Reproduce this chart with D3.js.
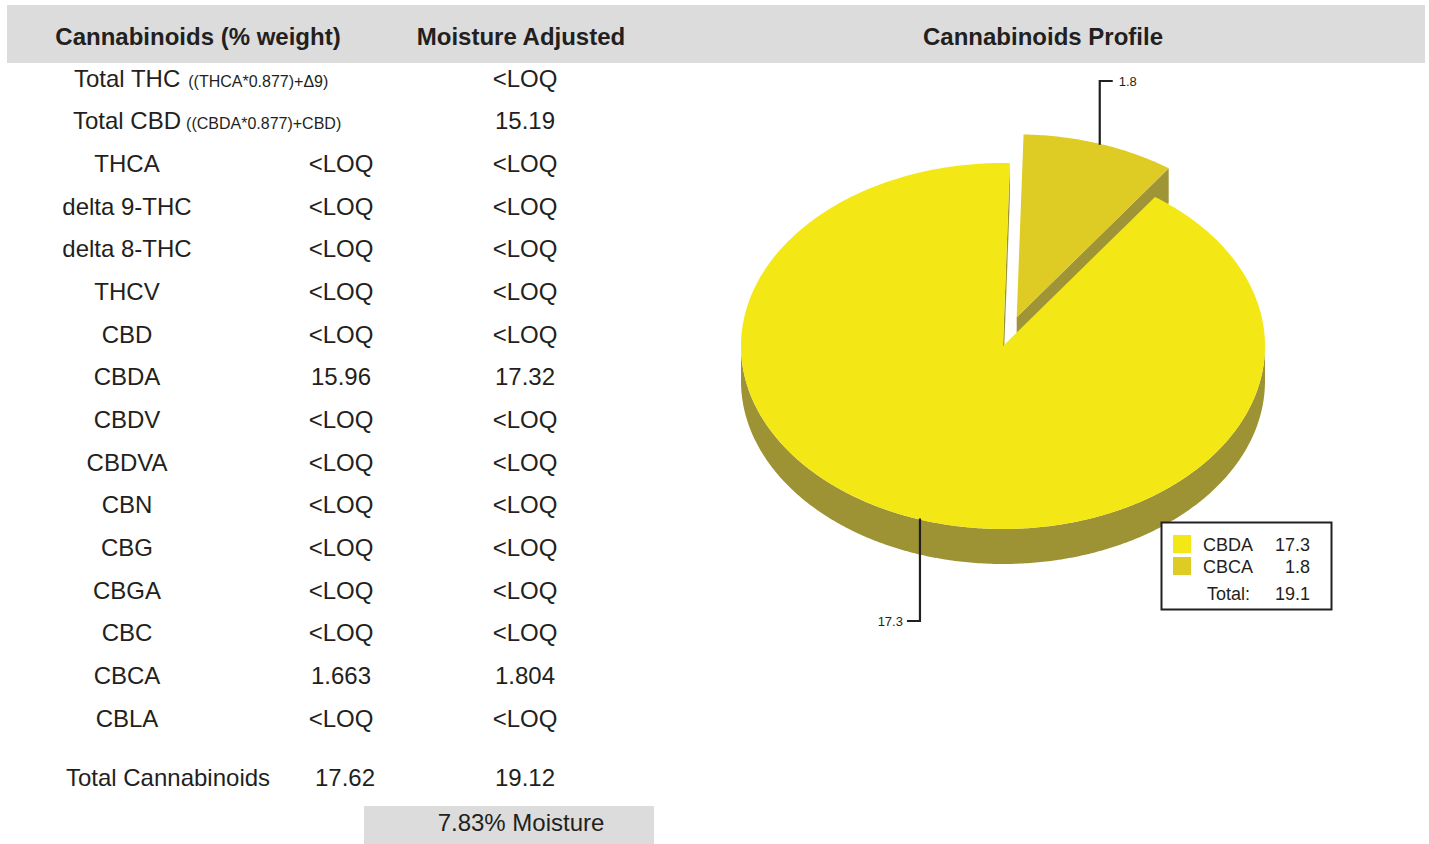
<!DOCTYPE html>
<html>
<head>
<meta charset="utf-8">
<script src="https://cdn.jsdelivr.net/npm/d3@7"></script>
<style>
  html, body { margin: 0; padding: 0; background: #fff; }
  svg { display: block; }
  text { font-family: "Liberation Sans", Arial, Helvetica, sans-serif; fill: #231f20; }
</style>
</head>
<body>
<svg id="chart" width="1429" height="844"></svg>
<script>
// ---------------- DATA ----------------
const headerTitles = ["Cannabinoids (% weight)", "Moisture Adjusted", "Cannabinoids Profile"];
const totalLabels = ["Total THC", "Total CBD"];
const totalFormulas = ["((THCA*0.877)+\u03949)", "((CBDA*0.877)+CBD)"];
const totalAdjusted = ["<LOQ", "15.19"];
const analytes = ["THCA", "delta 9-THC", "delta 8-THC", "THCV", "CBD", "CBDA", "CBDV", "CBDVA", "CBN", "CBG", "CBGA", "CBC", "CBCA", "CBLA"];
const weightValues = ["<LOQ", "<LOQ", "<LOQ", "<LOQ", "<LOQ", "15.96", "<LOQ", "<LOQ", "<LOQ", "<LOQ", "<LOQ", "<LOQ", "1.663", "<LOQ"];
const adjustedValues = ["<LOQ", "<LOQ", "<LOQ", "<LOQ", "<LOQ", "17.32", "<LOQ", "<LOQ", "<LOQ", "<LOQ", "<LOQ", "<LOQ", "1.804", "<LOQ"];
const grandTotalLabel = "Total Cannabinoids";
const grandTotalWeight = "17.62";
const grandTotalAdjusted = "19.12";
const moistureText = "7.83% Moisture";

const pieLabels = ["CBDA", "CBCA"];
const pieValues = [17.32, 1.804];
const pieTopColors = ["#f3e815", "#decb23"];
const pieSideColors = ["#9e9334", "#a09536"];
const pieExplode = [0, 0.165];

// ---------------- LAYOUT ----------------
const svg = d3.select("#chart");

// header band
svg.append("rect").attr("x", 7).attr("y", 5).attr("width", 1418).attr("height", 58).attr("fill", "#dcdcdc");
const headerX = [198, 521, 1043];
svg.selectAll("text.hdr").data(headerTitles).join("text")
  .attr("class", "hdr")
  .attr("x", (d, i) => headerX[i]).attr("y", 45)
  .attr("text-anchor", "middle")
  .style("font-weight", "bold").style("font-size", "24px")
  .text(d => d);

// row scale
const rowY = d3.scaleLinear().domain([0, 15]).range([78, 718]);
const colX = { name: 127, weight: 341, adjusted: 525 };
const FS = "24px";
const BO = 8.5;

// total rows
const totalRows = svg.selectAll("g.total").data(totalLabels).join("g").attr("class", "total");
totalRows.append("text")
  .attr("x", (d, i) => i === 0 ? 74 : 73)
  .attr("y", (d, i) => rowY(i) + BO)
  .style("font-size", FS)
  .text(d => d)
  .append("tspan")
  .attr("dx", (d, i) => i === 0 ? 8 : 5)
  .style("font-size", "16px")
  .text((d, i) => totalFormulas[i]);
totalRows.append("text")
  .attr("x", colX.adjusted).attr("y", (d, i) => rowY(i) + BO)
  .attr("text-anchor", "middle").style("font-size", FS)
  .text((d, i) => totalAdjusted[i]);

// analyte rows
const rows = svg.selectAll("g.row").data(analytes).join("g").attr("class", "row");
rows.append("text").attr("x", colX.name).attr("y", (d, i) => rowY(i + 2) + BO)
  .attr("text-anchor", "middle").style("font-size", FS).text(d => d);
rows.append("text").attr("x", colX.weight).attr("y", (d, i) => rowY(i + 2) + BO)
  .attr("text-anchor", "middle").style("font-size", FS).text((d, i) => weightValues[i]);
rows.append("text").attr("x", colX.adjusted).attr("y", (d, i) => rowY(i + 2) + BO)
  .attr("text-anchor", "middle").style("font-size", FS).text((d, i) => adjustedValues[i]);

// grand total
const gtY = 777 + BO;
svg.append("text").attr("x", 168).attr("y", gtY).attr("text-anchor", "middle").style("font-size", FS).text(grandTotalLabel);
svg.append("text").attr("x", 345).attr("y", gtY).attr("text-anchor", "middle").style("font-size", FS).text(grandTotalWeight);
svg.append("text").attr("x", colX.adjusted).attr("y", gtY).attr("text-anchor", "middle").style("font-size", FS).text(grandTotalAdjusted);

// moisture box
svg.append("rect").attr("x", 364).attr("y", 806).attr("width", 290).attr("height", 38).attr("fill", "#dcdcdc");
svg.append("text").attr("x", 521).attr("y", 831).attr("text-anchor", "middle").style("font-size", FS).text(moistureText);

// ---------------- 3D PIE ----------------
const cx = 1003, cy = 346, rx = 262, ry = 183, depth = 35;
const rot = 1.5 * Math.PI / 180;
const total = d3.sum(pieValues);
const firstShare = pieValues[0] / total * 2 * Math.PI;
const startA = rot + (2 * Math.PI - firstShare);
const pie = d3.pie().sort(null).value(d => d.value)
  .startAngle(startA).endAngle(startA + 2 * Math.PI);
const slices = pie(pieValues.map((v, i) => ({ label: pieLabels[i], value: v, i })));

function pt(a, r, z, off) {
  return [cx + off[0] + r * rx * Math.sin(a), cy + off[1] - r * ry * Math.cos(a) + z];
}
function arcPts(a0, a1, z, off) {
  const n = Math.max(4, Math.ceil(Math.abs(a1 - a0) / 0.01));
  const out = [];
  for (let k = 0; k <= n; k++) out.push(pt(a0 + (a1 - a0) * k / n, 1, z, off));
  return out;
}
const line = d3.line();

slices.forEach(s => {
  const mid = (s.startAngle + s.endAngle) / 2;
  const e = pieExplode[s.data.i];
  s.mid = mid;
  s.off = [e * rx * Math.sin(mid), -e * ry * Math.cos(mid)];
  s.depthKey = s.off[1] - ry * Math.cos(mid);
});
const ordered = slices.slice().sort((a, b) => a.depthKey - b.depthKey);

const pieG = svg.append("g");
ordered.forEach(s => {
  const g = pieG.append("g");
  const i = s.data.i;
  const a0 = s.startAngle, a1 = s.endAngle, off = s.off;
  const walls = [];
  if (Math.sin(a0) < 0) walls.push(a0);
  if (Math.sin(a1) > 0) walls.push(a1);
  walls.forEach(a => {
    const p = [pt(a, 0, 0, off), pt(a, 1, 0, off), pt(a, 1, depth, off), pt(a, 0, depth, off)];
    g.append("path").attr("d", line(p) + "Z").attr("fill", pieSideColors[i]);
  });
  for (let k = -1; k <= 2; k++) {
    const v0 = Math.PI / 2 + 2 * Math.PI * k, v1 = 3 * Math.PI / 2 + 2 * Math.PI * k;
    const s0 = Math.max(a0, v0), s1 = Math.min(a1, v1);
    if (s1 > s0) {
      const top = arcPts(s0, s1, 0, off);
      const bot = arcPts(s1, s0, depth, off);
      g.append("path").attr("d", line(top.concat(bot)) + "Z").attr("fill", pieSideColors[i]);
    }
  }
  const face = [pt(0, 0, 0, off)].concat(arcPts(a0, a1, 0, off));
  g.append("path").attr("d", line(face) + "Z").attr("fill", pieTopColors[i]);
});

// leaders
const fmt = d3.format(".1f");
const leaderG = svg.append("g");
slices.forEach(s => {
  const p = pt(s.mid, 1, 0, s.off);
  const upper = Math.cos(s.mid) > 0;
  const right = Math.sin(s.mid) > 0;
  const yEnd = upper ? cy - ry - 82 : cy + ry + depth + 57;
  const xEnd = p[0] + (right ? 13 : -13);
  leaderG.append("path")
    .attr("d", line([[p[0], p[1] + (upper ? 1 : -1)], [p[0], yEnd], [xEnd, yEnd]]))
    .attr("fill", "none").attr("stroke", "#231f20").attr("stroke-width", 2.2);
  leaderG.append("text")
    .attr("x", xEnd + (right ? 6 : -4)).attr("y", yEnd + 4.5)
    .attr("text-anchor", right ? "start" : "end")
    .style("font-size", "13px")
    .text(fmt(s.data.value));
});

// legend
const lg = svg.append("g");
lg.append("rect").attr("x", 1161.5).attr("y", 522.5).attr("width", 170).attr("height", 87)
  .attr("fill", "#fff").attr("stroke", "#231f20").attr("stroke-width", 2);
const legY = d3.scaleLinear().domain([0, 1]).range([544, 566]);
pieLabels.forEach((lab, i) => {
  lg.append("rect").attr("x", 1173).attr("y", legY(i) - 9).attr("width", 18).attr("height", 18).attr("fill", pieTopColors[i]);
  lg.append("text").attr("x", 1203).attr("y", legY(i) + 6.5).style("font-size", "18px").text(lab);
  lg.append("text").attr("x", 1310).attr("y", legY(i) + 6.5).attr("text-anchor", "end").style("font-size", "18px").text(fmt(pieValues[i]));
});
lg.append("text").attr("x", 1207).attr("y", 600).style("font-size", "18px").text("Total:");
lg.append("text").attr("x", 1310).attr("y", 600).attr("text-anchor", "end").style("font-size", "18px").text(fmt(total));
</script>
</body>
</html>
